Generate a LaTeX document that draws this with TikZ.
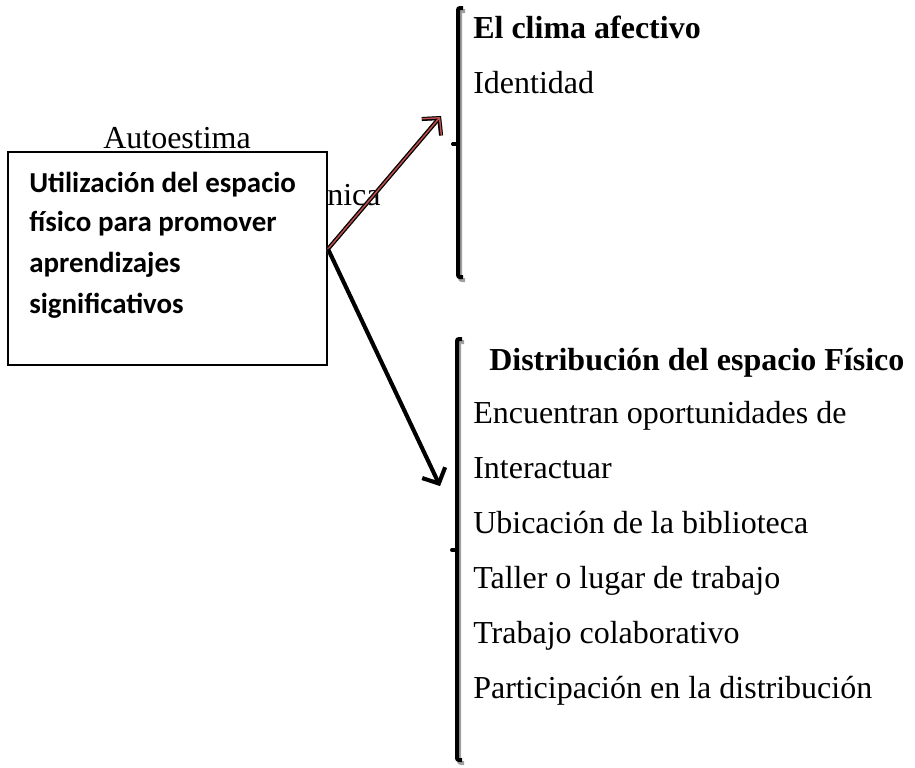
\documentclass[tikz,border=0pt]{standalone}
\usepackage{fontspec}
\setmainfont{Liberation Serif}
\newfontfamily\boxfont{Carlito}
\usetikzlibrary{arrows.meta}
\definecolor{arrowred}{RGB}{192,80,77}
\definecolor{shadowgray}{RGB}{160,160,160}
\tikzset{
  txt/.style={anchor=base west, inner sep=0, font=\fontsize{24}{28}\selectfont},
  boldtxt/.style={anchor=base west, inner sep=0, font=\fontsize{24}{28}\selectfont\bfseries},
  boxtxt/.style={anchor=base west, inner sep=0, font=\boxfont\fontsize{21.7}{26}\selectfont\bfseries},
  bracketline/.style={line width=3pt, rounded corners=1.5pt},
  arrowtip/.style={-{Straight Barb[length=9pt,width=19pt]}},
  conn/.style={arrowtip, line width=3pt},
  mainbox/.style={draw, fill=white, line width=0.8pt, inner sep=0,
    minimum width=239.25pt, minimum height=159.75pt}
}
\begin{document}
\begin{tikzpicture}[x=0.75pt,y=-0.75pt]
\useasboundingbox (0,0) rectangle (915,768);

% partly hidden label behind the box
\node[txt] (nica) at (327,205) {nica};
\node[txt] (auto) at (103,148) {Autoestima};

% main box
\node[mainbox] (box) at (167.5,258.5) {};
\node[boxtxt] (b1) at (29,192) {Utilización del espacio};
\node[boxtxt] (b2) at (29,231) {físico para promover};
\node[boxtxt] (b3) at (29,272) {aprendizajes};
\node[boxtxt] (b4) at (29,313) {significativos};

% connector end points
\coordinate (src) at (328,249);
\coordinate (t1) at (441,116);
\coordinate (t2) at (440,486);

% arrow 1 (red with black outline)
\draw[conn, draw=shadowgray, shift={(2,3)}] (src) -- (t1);
\draw[conn, draw=black] (src) -- (t1);
\draw[arrowtip, draw=arrowred, line width=1.1pt, shorten >=1pt] (src) -- (t1);

% arrow 2 (black)
\draw[conn, draw=shadowgray, shift={(2,3)}] (src) -- (t2);
\draw[conn, draw=black] (src) -- (t2);

% top bracket
\draw[bracketline, draw=shadowgray, shift={(2,3)}] (463,8) -- (458,8) -- (458,277) -- (463,277);
\draw[bracketline, draw=black] (463,8) -- (458,8) -- (458,277) -- (463,277);
\draw[line width=3pt, line cap=round, draw=black] (458,144) -- (453,144);

% bottom bracket
\draw[bracketline, draw=shadowgray, shift={(2,3)}] (462,339) -- (457,339) -- (457,760) -- (462,760);
\draw[bracketline, draw=black] (462,339) -- (457,339) -- (457,760) -- (462,760);
\draw[line width=3pt, line cap=round, draw=black] (457,550) -- (452,550);

% top texts
\node[boldtxt] (clima) at (473,38) {El clima afectivo};
\node[txt] (ident) at (473,93) {Identidad};

% bottom texts
\node[boldtxt] (dist) at (489,370) {Distribución del espacio Físico};
\node[txt] (l1) at (473,423) {Encuentran oportunidades de};
\node[txt] (l2) at (473,478) {Interactuar};
\node[txt] (l3) at (473,533) {Ubicación de la biblioteca};
\node[txt] (l4) at (473,588) {Taller o lugar de trabajo};
\node[txt] (l5) at (473,643) {Trabajo colaborativo};
\node[txt] (l6) at (473,698) {Participación en la distribución};
\end{tikzpicture}
\end{document}
